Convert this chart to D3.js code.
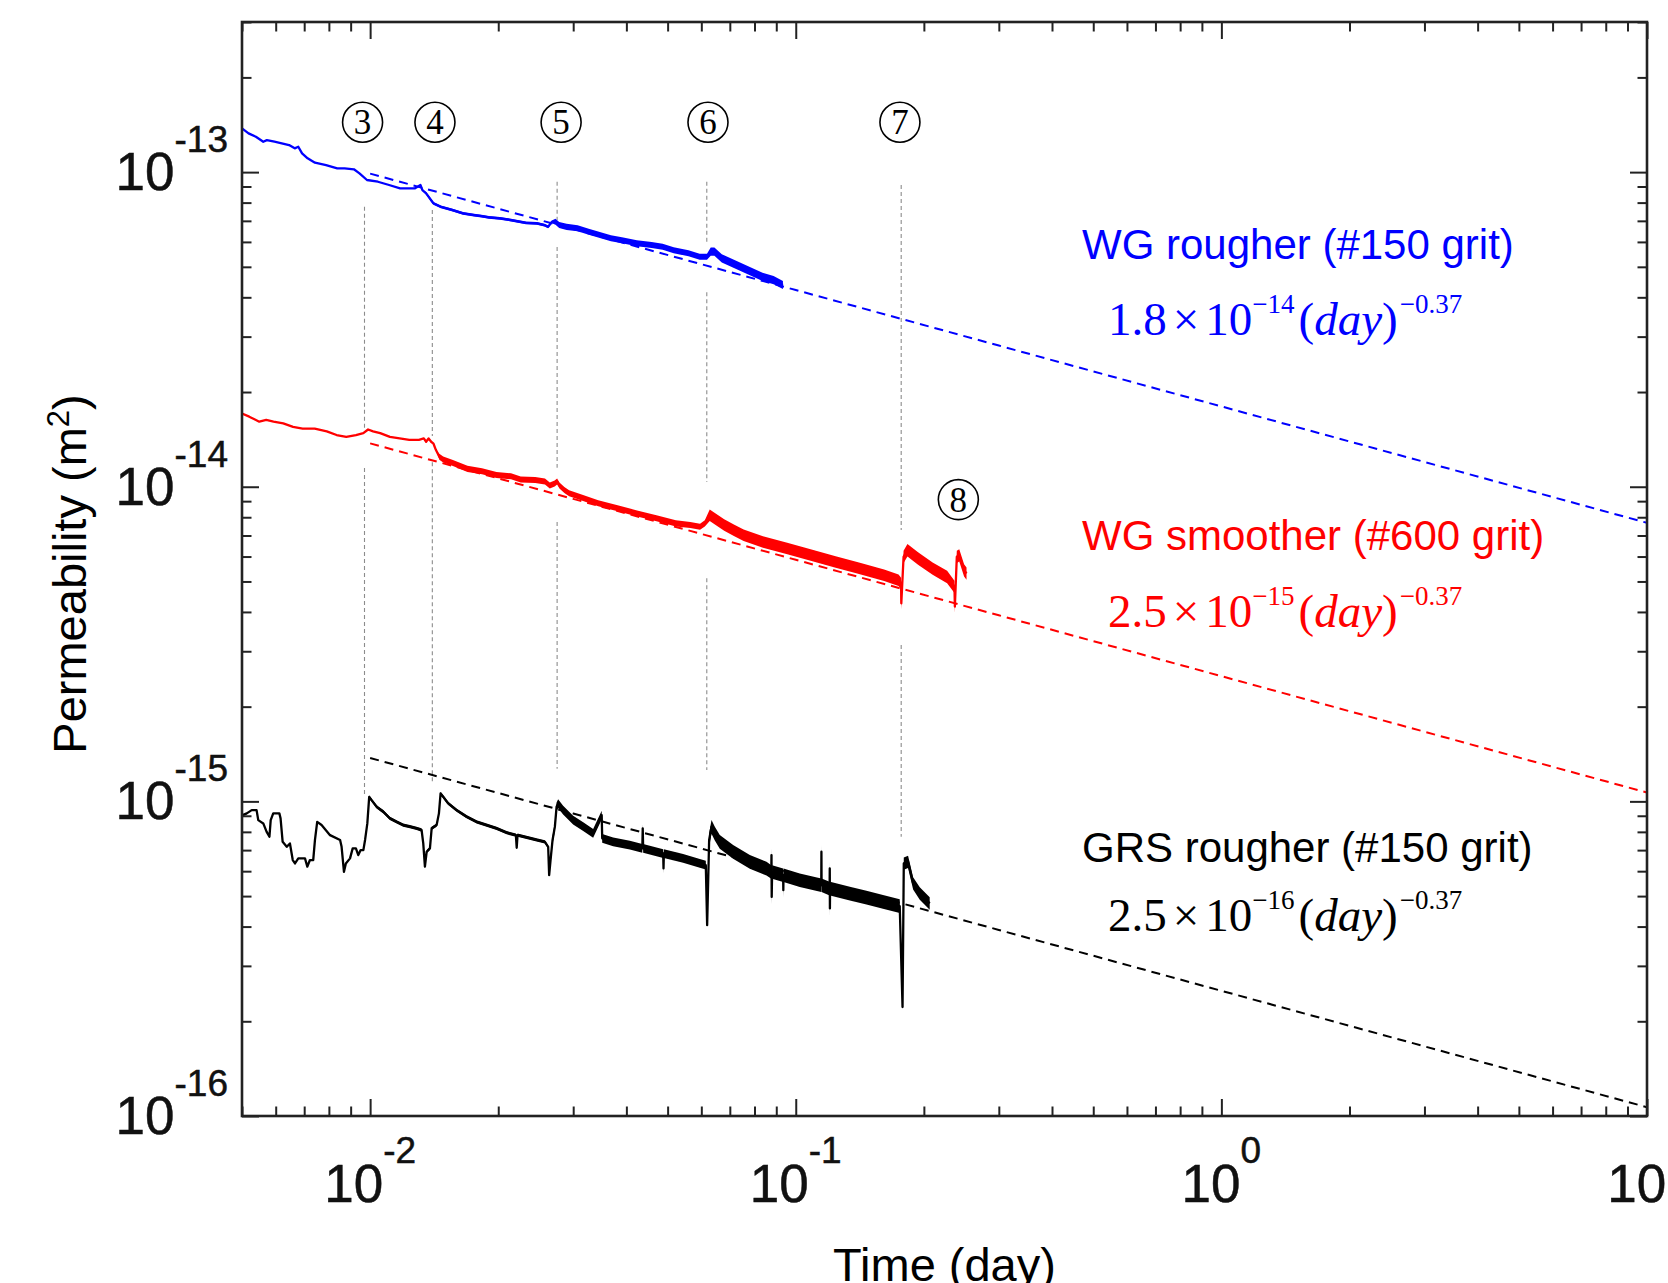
<!DOCTYPE html>
<html>
<head>
<meta charset="utf-8">
<title>Permeability vs time</title>
<script src="https://cdn.jsdelivr.net/npm/d3@7"></script>
<style>
  html, body { margin: 0; padding: 0; background: #fff; }
  svg { display: block; }
</style>
</head>
<body>
<div id="chart"></div>
<script>
// ---- axis ranges and tick labels ----
const timeDomain = [0.005, 10];          // day
const permDomain = [1e-16, 3e-13];       // m^2
const xMajorTicks = [1e-2, 1e-1, 1, 10];
const xTickExponents = ["-2", "-1", "0", "1"];
const yMajorTicks = [1e-16, 1e-15, 1e-14, 1e-13];
const yTickExponents = ["-16", "-15", "-14", "-13"];

// permeability values below are in units of 1e-15 m^2
const UNIT = 1e-15;

// WG rougher (#150 grit): [time (day), permeability]
const wgRougher = [
  [0.00500,137.8],[0.00518,132.8],[0.00539,129.5],[0.00561,124.9],[0.00572,126.4],[0.00596,124.9],
  [0.00620,123.4],[0.00645,121.9],[0.00665,119.0],[0.00678,120.4],[0.00692,114.7],[0.00713,110.6],
  [0.00742,107.1],[0.00788,105.3],[0.00837,102.8],[0.00871,102.8],[0.00916,102.1],[0.00944,99.1],
  [0.00983,94.4],[0.01043,93.2],[0.01108,91.0],[0.01176,88.8],[0.01275,88.8],[0.01313,91.0],
  [0.01327,87.7],[0.01354,85.6],[0.01408,79.6],[0.01466,77.6],[0.01556,75.8],[0.01653,73.9],
  [0.01755,73.0],[0.01827,72.5],[0.01901,71.8],[0.02019,71.3],[0.02144,70.4],[0.02323,69.0],
  [0.02466,68.7],[0.02567,67.9],[0.02619,67.0],[0.02672,69.5],[0.02726,69.5],[0.02781,67.9],
  [0.02895,67.0],[0.03073,66.3],[0.03263,64.6],[0.03465,63.1],[0.03679,61.6],[0.03906,60.8],
  [0.04234,59.4],[0.04586,58.7],[0.04867,57.9],[0.05167,56.5],[0.05598,55.2],[0.05945,53.8],
  [0.06187,53.8],[0.06313,55.9],[0.06440,55.9],[0.06703,53.2],[0.07116,51.3],[0.07710,48.8],
  [0.08355,46.5],[0.0887,45.4],[0.0933,43.8]
];

// WG smoother (#600 grit)
const wgSmoother = [
  [0.00500,17.1],[0.00520,16.7],[0.00549,16.1],[0.00570,16.3],[0.00593,16.1],[0.00625,15.9],
  [0.00659,15.5],[0.00694,15.3],[0.00741,15.3],[0.00791,15.0],[0.00834,14.6],[0.00879,14.4],
  [0.00926,14.6],[0.00964,14.8],[0.00989,15.2],[0.01016,15.0],[0.01056,14.8],[0.01113,14.4],
  [0.01173,14.25],[0.01236,14.1],[0.01302,14.1],[0.01337,14.25],[0.01354,13.9],[0.01372,14.25],
  [0.01391,13.9],[0.01409,13.7],[0.01427,13.1],[0.01454,12.45],[0.01485,12.2],[0.01565,11.9],
  [0.01693,11.4],[0.01832,11.2],[0.01981,10.9],[0.02143,10.8],[0.02258,10.55],[0.02443,10.5],
  [0.02575,10.4],[0.02643,10.1],[0.02714,10.25],[0.02750,10.4],[0.02785,10.1],[0.02860,9.76],
  [0.02935,9.53],[0.03177,9.19],[0.03435,8.86],[0.03815,8.54],[0.04238,8.23],[0.04707,7.94],
  [0.05227,7.65],[0.05652,7.56],[0.05958,7.46],[0.06115,7.65],[0.06279,8.13],[0.06444,7.94],
  [0.06790,7.56],[0.07155,7.28],[0.07543,7.02],[0.08375,6.68],[0.0955,6.37],[0.1089,6.06],
  [0.1241,5.77],[0.1415,5.50],[0.1613,5.24],[0.1744,5.05],[0.1768,4.93],[0.1770,4.26],
  [0.1792,5.99],[0.1830,6.29],[0.1938,5.92],[0.2097,5.50],[0.2268,5.17],[0.2360,4.81],
  [0.2365,4.16],[0.2390,5.99],[0.2422,6.06],[0.2486,5.43],[0.2519,5.30]
];

// GRS rougher (#150 grit)
const grsRougher = [
  [0.00502,0.904],[0.00513,0.916],[0.00527,0.938],[0.00541,0.938],[0.00546,0.872],[0.00561,0.851],
  [0.00571,0.801],[0.00580,0.772],[0.00584,0.872],[0.00592,0.916],[0.00612,0.916],[0.00616,0.883],
  [0.00623,0.744],[0.00637,0.717],[0.00648,0.735],[0.00658,0.651],[0.00666,0.635],[0.00678,0.659],
  [0.00703,0.659],[0.00712,0.620],[0.00722,0.651],[0.00735,0.651],[0.00742,0.754],[0.00751,0.861],
  [0.00769,0.841],[0.00805,0.781],[0.00850,0.754],[0.00857,0.717],[0.00868,0.597],[0.00877,0.635],
  [0.00897,0.659],[0.00910,0.709],[0.00926,0.709],[0.00938,0.675],[0.00950,0.700],[0.00964,0.700],
  [0.00973,0.754],[0.00985,0.851],[0.00995,1.034],[0.01008,1.009],[0.01036,0.961],[0.01074,0.927],
  [0.01113,0.883],[0.01154,0.861],[0.01196,0.841],[0.01240,0.831],[0.01286,0.821],[0.01321,0.811],
  [0.01333,0.735],[0.01345,0.620],[0.01358,0.692],[0.01382,0.709],[0.01395,0.821],[0.01433,0.841],
  [0.01451,0.916],[0.01464,1.060],[0.01485,1.034],[0.01526,0.985],[0.01596,0.938],[0.01685,0.894],
  [0.01779,0.861],[0.01878,0.841],[0.01982,0.821],[0.02093,0.795],[0.0220,0.781],[0.0221,0.712],
  [0.0222,0.781],[0.02331,0.768],[0.02461,0.754],[0.02574,0.744],[0.02620,0.717],[0.02634,0.583],
  [0.02654,0.651],[0.02683,0.754],[0.02717,0.831],[0.02742,0.961],[0.02765,0.985],[0.02841,0.938],
  [0.02999,0.872],[0.03167,0.831],[0.03342,0.791],[0.0350,0.904],[0.0351,0.763],[0.03724,0.744],
  [0.04076,0.726],[0.0436,0.709],[0.0437,0.821],[0.0438,0.709],[0.04881,0.683],[0.0489,0.612],
  [0.0490,0.683],[0.05437,0.659],[0.05951,0.635],[0.06147,0.627],[0.06192,0.404],[0.06259,0.754],
  [0.0634,0.831],[0.06455,0.791],[0.0663,0.744],[0.07126,0.692],[0.0780,0.643],[0.08537,0.612],
  [0.0876,0.597],[0.0877,0.675],[0.0878,0.497],[0.0880,0.597],[0.0934,0.583],[0.0935,0.522],
  [0.0936,0.583],[0.1022,0.562],[0.1148,0.542],[0.1149,0.692],[0.1150,0.542],[0.1201,0.529],
  [0.1202,0.612],[0.1203,0.457],[0.1204,0.529],[0.1340,0.510],[0.1466,0.495],[0.1603,0.480],
  [0.1755,0.465],[0.1782,0.222],[0.1794,0.635],[0.1836,0.643],[0.1887,0.549],[0.1956,0.510],
  [0.2064,0.474]
];

// measurement scatter: [from day, to day, relative half-spread]
const wgRougherScatter  = [[0.0135,0.027,0.01],[0.027,0.062,0.022],[0.0625,0.094,0.03]];
const wgSmootherScatter = [[0.0145,0.062,0.022],[0.0625,0.177,0.042],[0.178,0.26,0.045]];
const grsRougherScatter = [[0.0099,0.0262,0.012],[0.0265,0.0618,0.032],[0.0625,0.178,0.05],[0.179,0.21,0.045]];

// power-law fits k = A * day^-0.37
const fitCoefficients = [1.8e-14, 2.5e-15, 2.5e-16];
const fitExponent = -0.37;
const fitTimes = [0.01, 0.03, 0.1, 0.3, 1, 3, 10];

// event markers: time and the permeability spans of each gray guide line
const eventLabels = ["3", "4", "5", "6", "7"];
const eventTimes = [0.0097, 0.0140, 0.0275, 0.0618, 0.1769];
const eventLabelTimes = [0.0096, 0.0142, 0.0281, 0.0622, 0.1757];
const eventLabelPerm = 144;   // 1e-15 m^2
const eventSpans = [
  [[77.6, 15.4], [11.46, 1.05]],
  [[75.8, 14.5], [11.97, 1.155]],
  [[93.2, 70.4], [57.8, 11.5], [7.73, 1.27]],
  [[93.2, 60.0], [41.5, 10.35], [5.12, 1.258]],
  [[91.0, 7.28], [3.14, 0.772]]
];
const extraEvent = { label: "8", time: 0.241, perm: 9.1 };

// ---- layout ----
const W = 1668, H = 1283;
const plot = { left: 242, top: 22, right: 1647, bottom: 1116 };

const svg = d3.select("#chart").append("svg")
  .attr("width", W).attr("height", H)
  .attr("viewBox", `0 0 ${W} ${H}`);

const x = d3.scaleLog().domain(timeDomain).range([plot.left, plot.right]);
const y = d3.scaleLog().domain(permDomain).range([plot.bottom, plot.top]);

svg.append("defs").append("clipPath").attr("id", "plot-clip")
  .append("rect")
  .attr("x", plot.left).attr("y", plot.top)
  .attr("width", plot.right - plot.left).attr("height", plot.bottom - plot.top);

const layer = svg.append("g").attr("clip-path", "url(#plot-clip)");

// gray guide lines at each event
eventSpans.forEach((spans, i) => {
  layer.append("g").selectAll("line").data(spans).join("line")
    .attr("x1", x(eventTimes[i])).attr("x2", x(eventTimes[i]))
    .attr("y1", d => y(d[0] * UNIT)).attr("y2", d => y(d[1] * UNIT))
    .attr("stroke", "#8c8c8c").attr("stroke-width", 1.1)
    .attr("stroke-dasharray", "4,3");
});

const series = [
  { points: wgRougher,  scatter: wgRougherScatter,  color: "#0000ff", fit: fitCoefficients[0] },
  { points: wgSmoother, scatter: wgSmootherScatter, color: "#ff0000", fit: fitCoefficients[1] },
  { points: grsRougher, scatter: grsRougherScatter, color: "#000000", fit: fitCoefficients[2] }
];

// dashed power-law fits
const fitLine = d3.line().x(d => x(d[0])).y(d => y(d[1]));
series.forEach(s => {
  const pts = fitTimes.map(t => [t, s.fit * Math.pow(t, fitExponent)]);
  layer.append("path").attr("d", fitLine(pts))
    .attr("fill", "none").attr("stroke", s.color)
    .attr("stroke-width", 2).attr("stroke-dasharray", "9,6");
});

// measured curves with their scatter band
const spreadAt = (scatter, t) => {
  const r = scatter.find(s => t >= s[0] && t <= s[1]);
  return r ? r[2] : 0;
};
series.forEach(s => {
  const band = d3.area()
    .x(d => x(d[0]))
    .y0(d => y(d[1] * UNIT * (1 - spreadAt(s.scatter, d[0]))))
    .y1(d => y(d[1] * UNIT * (1 + spreadAt(s.scatter, d[0]))));
  layer.append("path").attr("d", band(s.points))
    .attr("fill", s.color).attr("stroke", "none");
  const line = d3.line().x(d => x(d[0])).y(d => y(d[1] * UNIT));
  layer.append("path").attr("d", line(s.points))
    .attr("fill", "none").attr("stroke", s.color)
    .attr("stroke-width", 2.3).attr("stroke-linejoin", "round");
});

// ---- axes: inward ticks on all four sides ----
const minorValues = (lo, hi) => {
  const out = [];
  for (let e = Math.floor(Math.log10(lo)); e <= Math.ceil(Math.log10(hi)); e++) {
    for (let m = 2; m <= 9; m++) {
      const v = m * Math.pow(10, e);
      if (v >= lo * 0.9999 && v <= hi * 1.0001) out.push(v);
    }
  }
  return out;
};
const xMinor = minorValues(timeDomain[0], timeDomain[1]);
const yMinor = minorValues(permDomain[0], permDomain[1]);

const axisDefs = [
  { gen: d3.axisBottom, scale: x, at: `translate(0,${plot.bottom})`, major: xMajorTicks, minor: xMinor },
  { gen: d3.axisTop,    scale: x, at: `translate(0,${plot.top})`,    major: xMajorTicks, minor: xMinor },
  { gen: d3.axisLeft,   scale: y, at: `translate(${plot.left},0)`,   major: yMajorTicks, minor: yMinor },
  { gen: d3.axisRight,  scale: y, at: `translate(${plot.right},0)`,  major: yMajorTicks, minor: yMinor }
];
axisDefs.forEach(a => {
  [[a.major, 17], [a.minor, 9.5]].forEach(([vals, len]) => {
    svg.append("g").attr("transform", a.at).attr("color", "#222")
      .call(a.gen(a.scale).tickValues(vals).tickSize(-len).tickFormat(""))
      .call(g => g.select(".domain").remove())
      .call(g => g.selectAll(".tick line").attr("stroke-width", 2));
  });
});

svg.append("rect")
  .attr("x", plot.left).attr("y", plot.top)
  .attr("width", plot.right - plot.left).attr("height", plot.bottom - plot.top)
  .attr("fill", "none").attr("stroke", "#222").attr("stroke-width", 2.6);

// tick labels as 10 with a raised exponent
const sans = "'Liberation Sans', Arial, Helvetica, sans-serif";
const serif = "'Liberation Serif', 'Times New Roman', serif";

xMajorTicks.forEach((v, i) => {
  const t = svg.append("text")
    .attr("x", x(v)).attr("y", plot.bottom + 86)
    .attr("text-anchor", "middle").attr("font-family", sans)
    .attr("font-size", 53).attr("fill", "#111")
    .attr("stroke", "#111").attr("stroke-width", 0.5);
  t.append("tspan").text("10");
  t.append("tspan").attr("dy", -39).attr("font-size", 37).text(xTickExponents[i]);
});
yMajorTicks.forEach((v, i) => {
  const t = svg.append("text")
    .attr("x", plot.left - 14).attr("y", y(v) + 18)
    .attr("text-anchor", "end").attr("font-family", sans)
    .attr("font-size", 53).attr("fill", "#111")
    .attr("stroke", "#111").attr("stroke-width", 0.5);
  t.append("tspan").text("10");
  t.append("tspan").attr("dy", -38).attr("font-size", 37).text(yTickExponents[i]);
});

// axis titles
svg.append("text")
  .attr("x", (plot.left + plot.right) / 2).attr("y", 1281)
  .attr("text-anchor", "middle").attr("font-family", sans)
  .attr("font-size", 47).attr("fill", "#000")
  .text("Time (day)");

const yTitle = svg.append("text")
  .attr("transform", "translate(86,574) rotate(-90)")
  .attr("text-anchor", "middle").attr("font-family", sans)
  .attr("font-size", 47).attr("fill", "#000");
yTitle.append("tspan").text("Permeability (m");
yTitle.append("tspan").attr("dy", -17).attr("font-size", 31).text("2");
yTitle.append("tspan").attr("dy", 17).text(")");

// series captions and fit formulas
const captions = [
  { title: "WG rougher (#150 grit)",  coef: "1.8", exp: "\u221214", color: "#0000ff", ty: 259, fy: 335 },
  { title: "WG smoother (#600 grit)", coef: "2.5", exp: "\u221215", color: "#ff0000", ty: 550, fy: 627 },
  { title: "GRS rougher (#150 grit)", coef: "2.5", exp: "\u221216", color: "#000000", ty: 862, fy: 931 }
];
captions.forEach(c => {
  svg.append("text")
    .attr("x", 1082).attr("y", c.ty)
    .attr("font-family", sans).attr("font-size", 42).attr("fill", c.color)
    .text(c.title);
  const f = svg.append("text")
    .attr("x", 1108).attr("y", c.fy)
    .attr("font-family", serif).attr("font-size", 47).attr("fill", c.color);
  f.append("tspan").text(c.coef);
  f.append("tspan").attr("dx", 6).text("\u00d7");
  f.append("tspan").attr("dx", 6).text("10");
  f.append("tspan").attr("dy", -22).attr("font-size", 27).text(c.exp);
  f.append("tspan").attr("dy", 22).attr("dx", 4).text("(");
  f.append("tspan").attr("font-style", "italic").text("day");
  f.append("tspan").text(")");
  f.append("tspan").attr("dy", -22).attr("dx", 2).attr("font-size", 27).text("\u22120.37");
});

// circled event numbers
const circled = eventLabels.map((l, i) => ({ label: l, t: eventLabelTimes[i], k: eventLabelPerm }))
  .concat([{ label: extraEvent.label, t: extraEvent.time, k: extraEvent.perm }]);
const badge = svg.append("g").selectAll("g").data(circled).join("g")
  .attr("transform", d => `translate(${x(d.t)},${y(d.k * UNIT)})`);
badge.append("circle").attr("r", 20)
  .attr("fill", "none").attr("stroke", "#000").attr("stroke-width", 1.6);
badge.append("text").attr("y", 12)
  .attr("text-anchor", "middle").attr("font-family", serif)
  .attr("font-size", 35).attr("fill", "#000")
  .text(d => d.label);
</script>
</body>
</html>
